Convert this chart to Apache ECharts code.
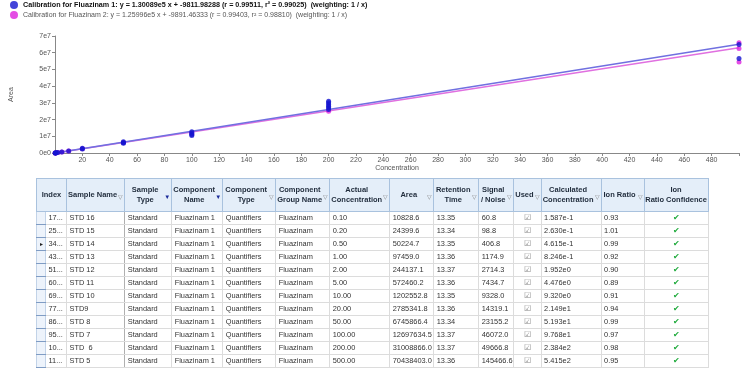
<!DOCTYPE html>
<html><head><meta charset="utf-8">
<script src="https://cdn.jsdelivr.net/npm/echarts@6/dist/echarts.min.js"></script>
<style>
html,body{margin:0;padding:0;background:#fff;width:750px;height:371px;overflow:hidden;font-family:"Liberation Sans",Arial,sans-serif;}
#chart{position:absolute;left:0;top:0;width:750px;height:371px;}
#tbl{position:absolute;left:36px;top:178px;border-collapse:collapse;table-layout:fixed;font-size:7.4px;color:#333;}
#tbl th{background:#e4eef9;border:1px solid #a9c2de;font-weight:bold;color:#1e2a3a;padding:0 7px 0 1px;height:32px;line-height:10px;text-align:center;position:relative;white-space:nowrap;overflow:hidden;font-size:7.5px;}
#tbl th.nf{padding:0;}
#tbl th .f{position:absolute;right:1px;top:13px;font-size:6px;color:#888;font-weight:normal;}
#tbl th .fb{color:#1a2a9a;}
#tbl td{border:1px solid #dcdcdc;height:12px;padding:0 0 0 2.5px;white-space:nowrap;overflow:hidden;line-height:12px;}
#tbl td.sel{background:#edf3fb;border-color:#c2d3e8;border-bottom:1px solid #7f9cc4;padding:0;font-size:6px;text-align:center;color:#222;}
#tbl td.fz{border-right:1px solid #b0b0b0;}
#tbl td.c{text-align:center;padding:0;}
.ok{color:#1faa3c;font-size:8px;}
.cb{color:#8a8a8a;font-size:8px;}
</style></head>
<body>
<div id="chart"></div>
<table id="tbl"></table>
<script>
// ---- data ----
const legendNames = [
  "Calibration for Fluazinam 1: y = 1.30089e5 x + -9811.98288 (r = 0.99511, r\u00b2 = 0.99025)  (weighting: 1 / x)",
  "Calibration for Fluazinam 2: y = 1.25996e5 x + -9891.46333 (r = 0.99403, r\u00b2 = 0.98810)  (weighting: 1 / x)"
];
const fit1Line = [[0.1, 3197], [500, 65034518]];
const fit2Line = [[0.1, 2708], [500, 62988109]];
const blueConc = [0.1,0.2,0.5,1,2,5,10,20,20,50,50,50,100,100,100,100,200,200,200,200,200,200,500,500,500];
const blueArea = [10828.6,24399.6,50224.7,97459.0,244137.1,572460.2,1202552.8,2785341.8,2450000,6745866.4,6200000,5800000,12697634.5,12000000,11000000,10400000,31008866.0,30000000,29000000,28000000,27000000,26000000,70438403.0,64900000,56500000];
const pinkConc = [0.1,0.5,2,5,10,20,50,100,200,500,500,500];
const pinkArea = [10000,48000,235000,560000,1180000,2600000,6300000,11500000,25000000,66000000,62500000,54500000];
const xTicks = [20,40,60,80,100,120,140,160,180,200,220,240,260,280,300,320,340,360,380,400,420,440,460,480];
const yTicks = ["0e0","1e7","2e7","3e7","4e7","5e7","6e7","7e7"];

const headers = ["Index","Sample Name","Sample<br>Type","Component<br>Name","Component<br>Type","Component<br>Group Name","Actual<br>Concentration","Area","Retention<br>Time","Signal<br>/ Noise","Used","Calculated<br>Concentration","Ion Ratio","Ion<br>Ratio Confidence"];
const filterIcon = [false,true,true,true,true,true,true,true,true,true,true,true,true,false];
const blueFilter = [false,false,true,true,false,false,false,false,false,false,false,false,false,false];
const colWidths = [9,21,58,47,51,53,54,60,44,45,35,27,60,43,64];
const idx = ["17...","25...","34...","43...","51...","60...","69...","77...","86...","95...","10...","11..."];
const sampleNames = ["STD 16","STD 15","STD 14","STD 13","STD 12","STD 11","STD 10","STD9","STD 8","STD 7","STD&nbsp; 6","STD 5"];
const actualConc = ["0.10","0.20","0.50","1.00","2.00","5.00","10.00","20.00","50.00","100.00","200.00","500.00"];
const areaTxt = ["10828.6","24399.6","50224.7","97459.0","244137.1","572460.2","1202552.8","2785341.8","6745866.4","12697634.5","31008866.0","70438403.0"];
const rt = ["13.35","13.34","13.35","13.36","13.37","13.36","13.35","13.36","13.34","13.37","13.37","13.36"];
const sn = ["60.8","98.8","406.8","1174.9","2714.3","7434.7","9328.0","14319.1","23155.2","46072.0","49666.8","145466.6"];
const calc = ["1.587e-1","2.630e-1","4.615e-1","8.246e-1","1.952e0","4.476e0","9.320e0","2.149e1","5.193e1","9.768e1","2.384e2","5.415e2"];
const ionRatio = ["0.93","1.01","0.99","0.92","0.90","0.89","0.91","0.94","0.99","0.97","0.98","0.95"];

// ---- table ----
let h = '<colgroup>' + colWidths.map(w => `<col style="width:${w}px">`).join('') + '</colgroup><tr>';
headers.forEach((t, i) => {
  const f = filterIcon[i] ? `<span class="f${blueFilter[i] ? ' fb' : ''}">${blueFilter[i] ? '\u25BC' : '\u25BD'}</span>` : '';
  h += `<th${i === 0 ? ' colspan="2"' : ''}${filterIcon[i] ? '' : ' class="nf"'}>${t}${f}</th>`;
});
h += '</tr>';
for (let r = 0; r < idx.length; r++) {
  h += '<tr>' +
    `<td class="sel">${r === 2 ? '\u25B8' : ''}</td>` +
    `<td>${idx[r]}</td><td class="fz">${sampleNames[r]}</td><td>Standard</td><td>Fluazinam 1</td><td>Quantifiers</td><td>Fluazinam</td>` +
    `<td>${actualConc[r]}</td><td>${areaTxt[r]}</td><td>${rt[r]}</td><td>${sn[r]}</td>` +
    `<td class="c"><span class="cb">\u2611</span></td><td>${calc[r]}</td><td>${ionRatio[r]}</td><td class="c"><span class="ok">\u2714</span></td></tr>`;
}
document.getElementById('tbl').innerHTML = h;

// ---- chart ----
const chart = echarts.init(document.getElementById('chart'));
const pair = (xs, ys) => xs.map((x, i) => [x, ys[i]]);
chart.setOption({
  animation: false,
  legend: {
    orient: 'vertical', left: 10, top: 1, padding: 0, itemGap: 2,
    itemWidth: 8, itemHeight: 8, icon: 'circle',
    textStyle: { fontSize: 7, color: '#555', fontFamily: 'Liberation Sans' },
    data: [
      { name: legendNames[0], textStyle: { fontWeight: 'bold', color: '#111', fontSize: 7.2, fontFamily: 'Liberation Sans' } },
      { name: legendNames[1], textStyle: { fontSize: 7, color: '#555', fontFamily: 'Liberation Sans' } }
    ]
  },
  grid: { left: 55, right: 11, top: 36, bottom: 218 },
  xAxis: {
    type: 'value', min: 0, max: 500, interval: 20,
    name: 'Concentration', nameLocation: 'middle', nameGap: 12,
    nameTextStyle: { fontSize: 7, color: '#555' },
    axisLine: { lineStyle: { color: '#888' } },
    axisTick: { length: 3, lineStyle: { color: '#888' } },
    axisLabel: { fontSize: 7, color: '#555', margin: 4,
      formatter: v => xTicks.indexOf(v) >= 0 ? String(v) : '' },
    splitLine: { show: false }
  },
  yAxis: {
    type: 'value', min: 0, max: 7e7, interval: 1e7,
    name: 'Area', nameLocation: 'middle', nameGap: 40, nameRotate: 90,
    nameTextStyle: { fontSize: 7, color: '#555' },
    axisLine: { show: true, lineStyle: { color: '#888' } },
    axisTick: { show: true, length: 3, lineStyle: { color: '#888' } },
    axisLabel: { fontSize: 7, color: '#555', margin: 4,
      formatter: v => yTicks[Math.round(v / 1e7)] },
    splitLine: { show: false }
  },
  series: [
    { type: 'line', name: 'fit2', data: fit2Line, symbol: 'none', z: 1,
      lineStyle: { color: '#e070e0', width: 1.5 } },
    { type: 'line', name: 'fit1', data: fit1Line, symbol: 'none', z: 1,
      lineStyle: { color: '#7070e0', width: 1.5 } },
    { type: 'scatter', name: legendNames[1], data: pair(pinkConc, pinkArea), symbolSize: 5, z: 2,
      itemStyle: { color: '#dd22dd' } },
    { type: 'scatter', name: legendNames[0], data: pair(blueConc, blueArea), symbolSize: 5, z: 3,
      itemStyle: { color: '#1414d0' } }
  ]
});
</script>
</body></html>
